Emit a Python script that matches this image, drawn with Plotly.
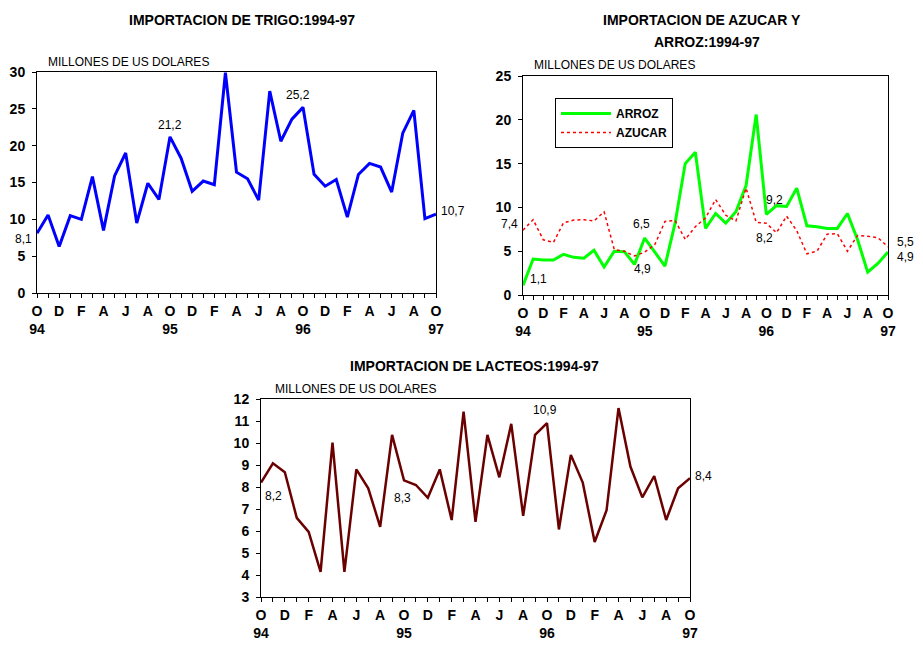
import plotly.graph_objects as go

# months Oct-94 .. Oct-97 (37 points)
meses = list(range(37))
letras = ["O", "N", "D", "E", "F", "M", "A", "M", "J", "J", "A", "S"]
anios = {0: "94", 12: "95", 24: "96", 36: "97"}

trigo = [8.1, 10.6, 6.3, 10.5, 10.0, 15.8, 8.5, 15.9, 19.0, 9.5, 14.9, 12.7,
         21.2, 18.3, 13.8, 15.2, 14.7, 29.9, 16.4, 15.5, 12.6, 27.4, 20.6, 23.6,
         25.2, 16.1, 14.5, 15.4, 10.3, 16.1, 17.6, 17.1, 13.7, 21.7, 24.8, 10.1, 10.7]

arroz = [1.1, 4.1, 4.0, 4.0, 4.65, 4.3, 4.2, 5.1, 3.2, 5.0, 4.95, 3.5,
         6.5, 4.9, 3.3, 8.2, 15.0, 16.3, 7.6, 9.3, 8.2, 9.5, 12.5, 20.6,
         9.2, 10.2, 10.1, 12.2, 7.9, 7.8, 7.6, 7.6, 9.3, 6.3, 2.6, 3.6, 4.9]

azucar = [7.4, 8.6, 6.3, 6.0, 8.25, 8.55, 8.6, 8.45, 9.5, 5.2, 5.0, 4.45,
          4.9, 5.75, 8.4, 8.5, 6.35, 7.8, 8.8, 10.9, 9.1, 8.45, 12.2, 8.3,
          8.2, 7.1, 9.0, 7.35, 4.7, 5.0, 6.95, 7.0, 5.0, 6.8, 6.7, 6.55, 5.5]

lacteos = [8.2, 9.08, 8.67, 6.6, 5.96, 4.14, 10.02, 4.14, 8.8, 7.94, 6.19, 10.37,
           8.3, 8.09, 7.51, 8.8, 6.5, 11.43, 6.42, 10.37, 8.44, 10.87, 6.69, 10.37,
           10.9, 6.07, 9.46, 8.2, 5.5, 6.95, 11.59, 8.93, 7.53, 8.5, 6.5, 7.94, 8.4]

W, H = 923, 651
OFF = 8  # page body margin
FONT = "Liberation Sans, Arial, sans-serif"


def px(x):
    return (x - OFF) / W


def py(y):
    return 1 - (y - OFF) / H


ticktext = []
for m in meses:
    if m % 2 == 1:
        ticktext.append("")
    else:
        t = letras[m % 12]
        if m in anios:
            t = t + "<br>" + anios[m]
        ticktext.append(t)


def fmt(v):
    return ("%.1f" % v).replace(".", ",")


fig = go.Figure()
fig.add_trace(go.Scatter(x=meses, y=trigo, mode="lines", name="TRIGO",
                         line=dict(color="#0000ff", width=3), showlegend=False,
                         xaxis="x", yaxis="y"))
fig.add_trace(go.Scatter(x=meses, y=arroz, mode="lines", name="ARROZ",
                         line=dict(color="#00ff00", width=3),
                         xaxis="x2", yaxis="y2"))
fig.add_trace(go.Scatter(x=meses, y=azucar, mode="lines", name="AZUCAR",
                         line=dict(color="#ff0000", width=1.5, dash="dot"),
                         xaxis="x2", yaxis="y2"))
fig.add_trace(go.Scatter(x=meses, y=lacteos, mode="lines", name="LACTEOS",
                         line=dict(color="#6b0000", width=2.5), showlegend=False,
                         xaxis="x3", yaxis="y3"))

tfont = dict(family=FONT, size=14, color="black", weight="bold")
xcommon = dict(range=[0, 36], tickvals=meses, ticktext=ticktext, ticks="outside",
               ticklen=4, tickcolor="black", showline=True, linecolor="black",
               linewidth=1, mirror=True, showgrid=False, zeroline=False,
               tickfont=tfont, tickangle=0, ticklabelstandoff=1)
ycommon = dict(ticks="outside", ticklen=4, tickcolor="black", showline=True,
               linecolor="black", linewidth=1, mirror=True, showgrid=False,
               zeroline=False, ticklabelstandoff=4, tickfont=tfont)

fig.update_layout(
    width=W, height=H, template="none",
    paper_bgcolor="white", plot_bgcolor="white",
    margin=dict(l=0, r=0, t=0, b=0),
    font=dict(family=FONT, color="black"),
    xaxis=dict(xcommon, domain=[px(37), px(436)], anchor="y"),
    yaxis=dict(ycommon, domain=[py(293), py(72)], anchor="x", range=[0, 30], dtick=5),
    xaxis2=dict(xcommon, domain=[px(523), px(888)], anchor="y2"),
    yaxis2=dict(ycommon, domain=[py(295), py(76)], anchor="x2", range=[0, 25], dtick=5),
    xaxis3=dict(xcommon, domain=[px(261), px(690)], anchor="y3"),
    yaxis3=dict(ycommon, domain=[py(597), py(399)], anchor="x3", range=[3, 12], dtick=1),
    legend=dict(x=px(555), y=py(98), xanchor="left", yanchor="top",
                bgcolor="white", bordercolor="black", borderwidth=1,
                itemwidth=50, tracegroupgap=0,
                font=dict(family=FONT, size=12, color="black", weight="bold")),
)

# titles
titulos = [
    ("IMPORTACION DE TRIGO:1994-97", 242, 20),
    ("IMPORTACION DE AZUCAR Y", 702, 20),
    ("ARROZ:1994-97", 707, 42),
    ("IMPORTACION DE LACTEOS:1994-97", 474, 366),
]
for txt, x, y in titulos:
    fig.add_annotation(text=txt, x=px(x), y=py(y), xref="paper", yref="paper",
                       showarrow=False, xanchor="center", yanchor="middle",
                       font=dict(family=FONT, size=14, color="black", weight="bold"))

# unit labels
for x, y in [(46, 62), (532, 65), (273, 389)]:
    fig.add_annotation(text="MILLONES DE US DOLARES", x=px(x), y=py(y),
                       xref="paper", yref="paper", showarrow=False,
                       xanchor="left", yanchor="middle",
                       font=dict(family=FONT, size=12, color="black"))

# data labels: (axis, month, series, xanchor, yanchor, xshift, yshift)
etiquetas = [
    ("", 0, trigo, "right", "middle", -3, -6),
    ("", 12, trigo, "center", "bottom", 0, 3),
    ("", 24, trigo, "center", "bottom", -5, 3),
    ("", 36, trigo, "left", "middle", 3, 3),
    ("2", 0, azucar, "right", "middle", -3, 6),
    ("2", 0, arroz, "left", "middle", 5, 6),
    ("2", 12, arroz, "center", "bottom", -3, 5),
    ("2", 12, azucar, "center", "top", -2, -8),
    ("2", 24, arroz, "left", "bottom", -2, 5),
    ("2", 24, azucar, "center", "top", -2, -6),
    ("2", 36, azucar, "left", "middle", 7, 5),
    ("2", 36, arroz, "left", "middle", 7, -5),
    ("3", 0, lacteos, "left", "top", 2, -4),
    ("3", 12, lacteos, "center", "top", -2, -9),
    ("3", 24, lacteos, "center", "bottom", -2, 4),
    ("3", 36, lacteos, "left", "middle", 3, 2),
]
for ax, m, serie, xa, ya, xs, ys in etiquetas:
    fig.add_annotation(text=fmt(serie[m]), x=m, y=serie[m],
                       xref="x" + ax, yref="y" + ax, showarrow=False,
                       xanchor=xa, yanchor=ya, xshift=xs, yshift=ys,
                       font=dict(family=FONT, size=12, color="black"))

fig.write_html("out.html")
